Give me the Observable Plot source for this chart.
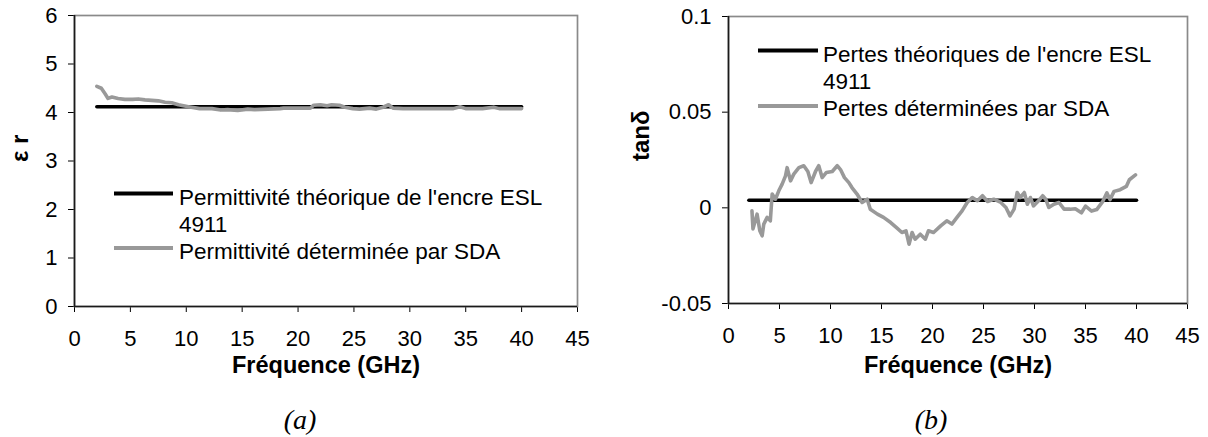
<!DOCTYPE html>
<html><head><meta charset="utf-8">
<script src="https://cdn.jsdelivr.net/npm/d3@7"></script>
<script src="https://cdn.jsdelivr.net/npm/@observablehq/plot@0.6"></script>
<style>
html,body{margin:0;padding:0;background:#fff;}
#wrap{display:flex;width:1208px;height:437px;overflow:hidden;}
#wrap svg{display:block;flex:none;}
</style></head><body><div id="wrap"></div>
<script>
// ---------- data ----------
const xTicks = [0, 5, 10, 15, 20, 25, 30, 35, 40, 45];
const xTitle = "Fréquence (GHz)";

// (a) permittivity
const permTicks = [0, 1, 2, 3, 4, 5, 6];
const freqPermTheory = [2, 40];
const permTheory = [4.12, 4.12];
const freqPermMeas = [2.0, 2.4, 2.75, 3.0, 3.35, 3.9, 4.5, 5.2, 5.7, 6.3, 7.5, 8.1, 8.7, 9.3, 10.2, 11.2, 12.3, 13.1, 13.7, 14.6, 15.5, 16.1, 17.3, 18.4, 18.7, 19.3, 21.1, 21.4, 22.0, 22.6, 23.0, 23.7, 24.2, 24.9, 25.5, 26.4, 27.0, 27.6, 28.1, 28.5, 29.4, 31.5, 33.9, 34.5, 35.0, 36.5, 37.5, 38.0, 39.0, 40.0];
const permMeas = [4.54, 4.50, 4.38, 4.29, 4.32, 4.29, 4.27, 4.27, 4.28, 4.26, 4.24, 4.21, 4.20, 4.16, 4.12, 4.08, 4.08, 4.05, 4.06, 4.04, 4.07, 4.06, 4.07, 4.08, 4.09, 4.09, 4.09, 4.15, 4.16, 4.14, 4.16, 4.15, 4.11, 4.08, 4.07, 4.09, 4.07, 4.11, 4.16, 4.09, 4.08, 4.08, 4.08, 4.12, 4.08, 4.08, 4.11, 4.08, 4.08, 4.08];
const permTitle = "ε r";
const permLegend = ["Permittivité théorique de l'encre ESL", "4911", "Permittivité déterminée par SDA"];

// (b) losses
const lossTicks = [-0.05, 0, 0.05, 0.1];
const freqLossTheory = [2, 40];
const lossTheory = [0.004, 0.004];
const freqLossMeas = [2.3, 2.4, 2.8, 3.07, 3.3, 3.46, 3.79, 4.1, 4.28, 4.6, 4.93, 5.26, 5.59, 5.75, 6.08, 6.4, 6.9, 7.38, 7.78, 8.1, 8.53, 8.85, 9.18, 9.6, 10.17, 10.66, 10.98, 11.37, 11.8, 12.1, 12.6, 13.1, 13.6, 13.9, 14.6, 15.2, 15.9, 16.5, 17.0, 17.4, 17.7, 18.0, 18.3, 18.8, 19.3, 19.6, 20.1, 20.8, 21.4, 21.9, 22.4, 22.9, 23.4, 23.9, 24.4, 24.9, 25.4, 26.0, 26.7, 27.2, 27.6, 28.0, 28.3, 28.6, 29.0, 29.3, 29.6, 29.9, 30.4, 30.8, 31.1, 31.4, 31.9, 32.4, 32.9, 33.5, 34.0, 34.6, 35.0, 35.6, 36.1, 36.7, 37.1, 37.4, 37.8, 38.4, 39.0, 39.3, 39.9];
const lossMeas = [-0.0016, -0.011, -0.0033, -0.012, -0.0146, -0.0085, -0.005, -0.0068, 0.0072, 0.0045, 0.0089, 0.0124, 0.0167, 0.021, 0.0141, 0.0176, 0.021, 0.022, 0.019, 0.0132, 0.019, 0.022, 0.0158, 0.0185, 0.019, 0.022, 0.020, 0.0158, 0.0132, 0.0106, 0.0072, 0.0028, 0.0045, -0.0007, -0.0033, -0.005, -0.0077, -0.0105, -0.0129, -0.012, -0.019, -0.0129, -0.0164, -0.0138, -0.0164, -0.012, -0.0129, -0.0094, -0.0068, -0.0085, -0.005, -0.0016, 0.0028, 0.0054, 0.0037, 0.0063, 0.0033, 0.0045, 0.0028, 0.0002, -0.0042, -0.0007, 0.008, 0.0054, 0.008, 0.0019, 0.0054, 0.001, 0.0037, 0.0063, 0.0045, 0.0002, 0.0019, 0.0028, -0.0007, -0.0007, -0.0005, -0.0026, 0.0009, -0.0017, -0.0009, 0.0034, 0.0078, 0.0043, 0.0086, 0.0095, 0.0112, 0.0147, 0.0172];
const lossTitle = "tanδ";
const lossLegend = ["Pertes théoriques de l'encre ESL", "4911", "Pertes déterminées par SDA"];

// ---------- drawing ----------
const FONT = "'Liberation Sans', Arial, Helvetica, sans-serif";
const SERIF = "'Liberation Serif', 'Times New Roman', Times, serif";
const table = (xs, ys) => xs.map((f, i) => ({f, v: ys[i]}));

function chart(o) {
  const svg = Plot.plot({
    width: o.width, height: 437,
    marginLeft: o.ml, marginRight: o.mr, marginTop: o.mt, marginBottom: o.mb,
    style: {fontFamily: FONT, fontSize: "22px", color: "#000", background: "#fff", overflow: "visible"},
    x: {domain: [0, 45], ticks: xTicks, tickSize: 6, tickPadding: 18, label: null, tickFormat: d => String(d)},
    y: {domain: o.yDomain, ticks: o.yTicks, tickSize: 6, tickPadding: 11, label: null, tickFormat: d => String(d)},
    marks: [
      Plot.frame({stroke: "#8a8a8a", strokeWidth: 1.7}),
      Plot.ruleX([0], {stroke: "#1a1a1a", strokeWidth: 1.6}),
      Plot.ruleY([o.yDomain[0]], {stroke: "#1a1a1a", strokeWidth: 1.6}),
      Plot.line(o.theory, {x: "f", y: "v", stroke: "#000", strokeWidth: 3.6}),
      Plot.line(o.meas, {x: "f", y: "v", stroke: "#999", strokeWidth: 3.6, strokeLinejoin: "round", strokeLinecap: "round"}),
      Plot.text([xTitle], {text: d => d, frameAnchor: "bottom", lineAnchor: "middle", dy: o.titleDy, fontWeight: "bold", fontSize: 23.5}),
      Plot.text([o.yTitle], {text: d => d, frameAnchor: "left", lineAnchor: "middle", dx: o.yTitleDx, dy: 1, rotate: -90, fontWeight: "bold", fontSize: 24}),
      Plot.text([o.caption], {text: d => d, frameAnchor: "bottom", lineAnchor: "middle", dx: o.capDx, dy: o.capDy, fontFamily: SERIF, fontStyle: "italic", fontSize: 28})
    ]
  });
  // legend inside the plot area
  const L = o.legend;
  const g = d3.select(svg).append("g").attr("font-family", FONT).attr("font-size", 22.5).attr("fill", "#000").attr("text-anchor", "start");
  g.append("line").attr("x1", L.x1).attr("x2", L.x2).attr("y1", L.s1).attr("y2", L.s1).attr("stroke", "#000").attr("stroke-width", 4);
  g.append("line").attr("x1", L.x1).attr("x2", L.x2).attr("y1", L.s2).attr("y2", L.s2).attr("stroke", "#999").attr("stroke-width", 4);
  L.texts.forEach((t, i) => g.append("text").attr("x", L.tx).attr("y", L.ty[i]).attr("dy", "0.36em").attr("text-anchor", "start").text(t));
  return svg;
}

const wrap = document.getElementById("wrap");
wrap.append(chart({
  width: 600, ml: 74, mr: 23, mt: 15, mb: 131,
  yDomain: [0, 6], yTicks: permTicks,
  theory: table(freqPermTheory, permTheory), meas: table(freqPermMeas, permMeas),
  yTitle: permTitle, yTitleDx: -54, titleDy: 58.5, caption: "(a)", capDx: -26, capDy: 114,
  legend: {x1: 114, x2: 173, tx: 179, s1: 193.5, s2: 248, ty: [196.5, 223.5, 250.5], texts: permLegend}
}));
wrap.append(chart({
  width: 608, ml: 128, mr: 21, mt: 16, mb: 134,
  yDomain: [-0.05, 0.1], yTicks: lossTicks,
  theory: table(freqLossTheory, lossTheory), meas: table(freqLossMeas, lossMeas),
  yTitle: lossTitle, yTitleDx: -87, titleDy: 61.5, caption: "(b)", capDx: -27, capDy: 117,
  legend: {x1: 158, x2: 218, tx: 223, s1: 50.5, s2: 106, ty: [54, 80.5, 108], texts: lossLegend}
}));
</script></body></html>
